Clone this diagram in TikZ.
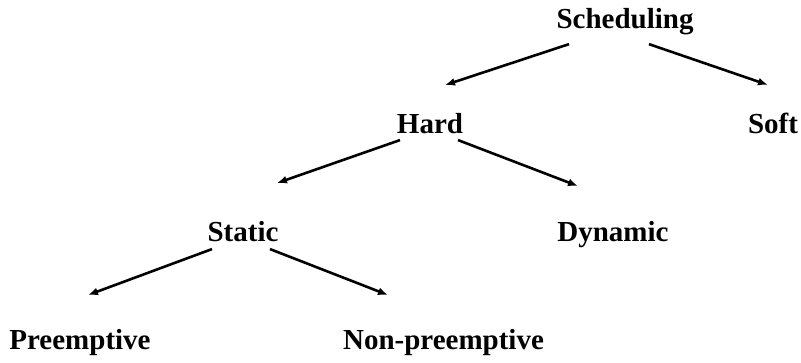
\documentclass[tikz,border=0pt]{standalone}
\usepackage{fontspec}
\setmainfont{Liberation Serif}
\usetikzlibrary{calc,arrows.meta}
\begin{document}
\begin{tikzpicture}[x=1pt,y=-1pt,
  lbl/.style={anchor=base,inner sep=0pt,font=\fontsize{29}{34}\selectfont\bfseries},
  arr/.style={line width=2.6pt,-{Latex[length=10pt,width=8pt]}}]
\useasboundingbox (0,0) rectangle (801,362);
% category labels, placed by baseline
\node[lbl] (sch)  at (625,28)  {Scheduling};
\node[lbl] (hard) at (430,133) {Hard};
\node[lbl] (soft) at (773,133) {Soft};
\node[lbl] (stat) at (243,241) {Static};
\node[lbl] (dyn)  at (613,241) {Dynamic};
\node[lbl] (pre)  at (80,349)  {Preemptive};
\node[lbl] (non)  at (443.5,349) {Non-preemptive};
% tree edges
\draw[arr] ($(sch)+(-56,23)$) -- ($(hard)+(15,-38)$);
\draw[arr] ($(sch)+(24,23)$) -- ($(soft)+(-5,-38)$);
\draw[arr] ($(hard)+(-30,17)$) -- ($(stat)+(34,-48)$);
\draw[arr] ($(hard)+(28,17)$) -- ($(dyn)+(-35,-48)$);
\draw[arr] ($(stat)+(-31,18)$) -- ($(pre)+(8,-47)$);
\draw[arr] ($(stat)+(27,18)$) -- ($(non)+(-55.5,-47)$);
\end{tikzpicture}
\end{document}
